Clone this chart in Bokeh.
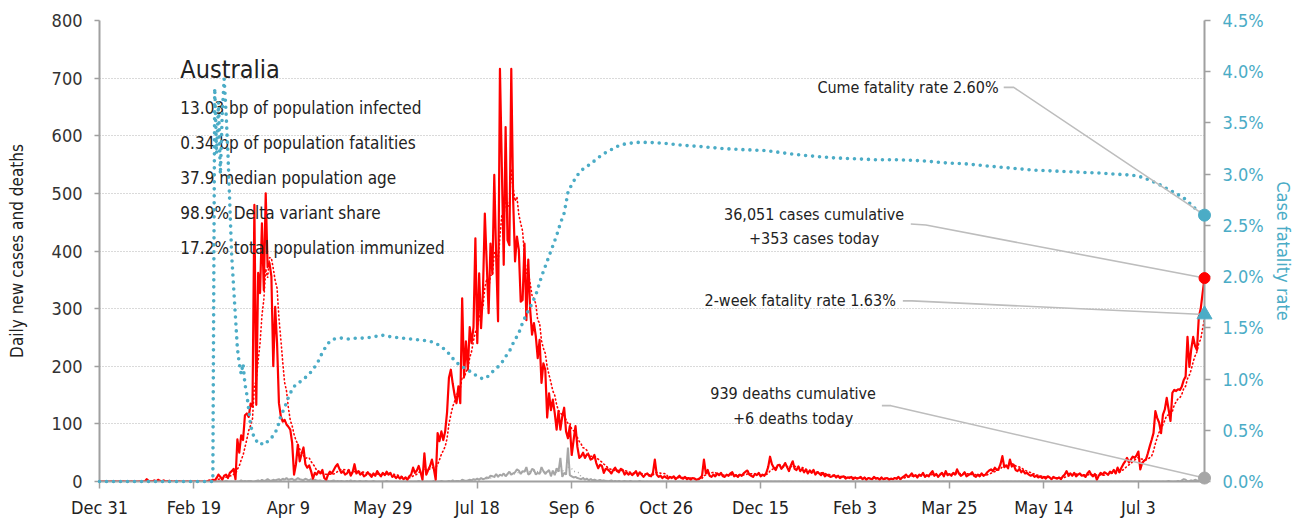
import pandas as pd
from bokeh.plotting import figure
from bokeh.models import Range1d, LinearAxis, FixedTicker, PrintfTickFormatter, Label
from bokeh.embed import file_html
from bokeh.resources import INLINE

FONT = "DejaVu Sans Condensed, Liberation Sans Narrow, Roboto, sans-serif"
RED = "#ff0000"
BLUE = "#4bacc6"
GRAY = "#a6a6a6"
TXT = "#222222"

# ---------------- data (day 0 = Dec 31, 2019) ----------------
tick_days = [0, 50, 100, 150, 200, 250, 300, 350, 400, 450, 500, 550]
tick_labels = ["Dec 31", "Feb 19", "Apr 9", "May 29", "Jul 18", "Sep 6",
               "Oct 26", "Dec 15", "Feb 3", "Mar 25", "May 14", "Jul 3"]

cases = [
    0, 0, 0, 0, 0, 0, 0, 0, 0, 0, 0, 0, 0, 0, 0, 0, 0, 0, 0, 0,
    0, 0, 0, 0, 0, 4, 1, 0, 0, 2, 0, 3, 1, 0, 2, 0, 0, 1, 0, 0,
    0, 0, 0, 0, 0, 0, 0, 0, 0, 0, 0, 0, 0, 0, 0, 0, 0, 0, 2, 1,
    3, 2, 6, 12, 8, 3, 10, 12, 6, 15, 18, 22, 4, 73, 50, 80, 72, 115, 118, 112,
    135, 130, 480, 133, 362, 327, 448, 332, 500, 372, 379, 356, 200, 303, 240, 136, 113, 104, 107, 99,
    95, 90, 67, 12, 30, 64, 35, 48, 59, 30, 24, 28, 18, 5, 15, 12, 18, 14, 20, 6,
    3, 12, 17, 14, 20, 26, 30, 22, 15, 18, 12, 14, 20, 10, 16, 30, 14, 18, 12, 15,
    9, 11, 16, 12, 8, 14, 10, 18, 13, 9, 15, 11, 17, 12, 15, 8, 10, 6, 9, 5,
    8, 4, 7, 3, 9, 12, 24, 15, 19, 27, 16, 3, 49, 12, 20, 27, 38, 22, 3, 84,
    70, 87, 72, 87, 120, 180, 194, 170, 150, 136, 165, 136, 318, 182, 243, 194, 268, 240, 268, 422,
    240, 361, 266, 330, 465, 379, 292, 413, 360, 532, 390, 278, 716, 546, 376, 615, 419, 410, 716, 488,
    382, 425, 402, 312, 315, 413, 280, 385, 298, 255, 275, 252, 214, 246, 171, 205, 194, 111, 153, 124,
    142, 119, 90, 122, 90, 113, 128, 87, 75, 96, 46, 72, 96, 60, 41, 44, 50, 41, 47, 46,
    38, 40, 46, 32, 23, 29, 27, 15, 22, 21, 18, 14, 20, 24, 18, 16, 22, 20, 12, 16,
    12, 15, 11, 14, 18, 10, 16, 12, 8, 12, 14, 10, 9, 15, 38, 12, 8, 10, 6, 9,
    7, 5, 8, 6, 9, 4, 7, 10, 6, 5, 8, 4, 6, 3, 6, 5, 3, 4, 6, 10,
    38, 14, 20, 10, 8, 12, 9, 14, 11, 15, 9, 8, 12, 10, 14, 16, 9, 11, 8, 12,
    10, 14, 17, 19, 12, 10, 8, 13, 11, 15, 9, 12, 10, 15, 25, 43, 30, 24, 20, 28,
    29, 22, 26, 32, 25, 18, 28, 35, 22, 20, 26, 18, 22, 16, 21, 14, 19, 15, 20, 12,
    16, 14, 11, 15, 9, 12, 10, 8, 9, 11, 7, 10, 6, 8, 9, 5, 7, 6, 8, 4,
    7, 5, 6, 8, 4, 7, 3, 6, 5, 4, 8, 5, 6, 3, 7, 4, 5, 6, 3, 5,
    4, 6, 5, 8, 4, 7, 9, 12, 8, 10, 14, 9, 11, 7, 12, 10, 15, 8, 11, 9,
    14, 18, 10, 13, 8, 12, 15, 9, 18, 11, 13, 10, 15, 12, 21, 14, 10, 12, 16, 9,
    11, 13, 16, 10, 8, 12, 9, 14, 10, 12, 16, 19, 21, 18, 24, 20, 22, 30, 44, 25,
    28, 23, 38, 26, 29, 20, 18, 22, 16, 19, 14, 15, 12, 10, 12, 8, 10, 7, 9, 6,
    8, 5, 9, 7, 4, 8, 6, 5, 7, 4, 9, 12, 18, 11, 14, 10, 15, 9, 12, 14,
    10, 11, 8, 14, 18, 12, 9, 13, 3, 10, 15, 12, 16, 14, 12, 17, 15, 20, 14, 24,
    16, 24, 30, 35, 41, 33, 38, 43, 41, 45, 52, 21, 32, 36, 38, 49, 61, 72, 84, 122,
    110, 102, 84, 116, 125, 145, 125, 105, 154, 159, 157, 160, 159, 165, 176, 182, 251, 199, 230, 251,
    235, 228, 286, 300, 327, 353,
]

deaths = [
    0, 0, 0, 0, 0, 0, 0, 0, 0, 0, 0, 0, 0, 0, 0, 0, 0, 0, 0, 0,
    0, 0, 0, 0, 0, 0, 0, 0, 0, 0, 0, 0, 0, 0, 0, 0, 0, 0, 0, 0,
    0, 0, 0, 0, 0, 0, 0, 0, 0, 0, 0, 0, 0, 0, 0, 0, 0, 0, 0, 0,
    0, 1, 0, 0, 1, 0, 0, 1, 0, 0, 0, 0, 0, 0, 0, 2, 0, 1, 0, 1,
    1, 0, 0, 1, 2, 0, 3, 1, 2, 4, 2, 1, 3, 2, 3, 4, 2, 5, 3, 6,
    3, 4, 5, 2, 3, 6, 4, 3, 2, 5, 3, 2, 4, 1, 3, 2, 1, 2, 0, 1,
    2, 1, 0, 1, 2, 0, 1, 0, 1, 0, 0, 1, 0, 2, 0, 1, 0, 0, 1, 0,
    0, 1, 0, 0, 0, 1, 0, 0, 0, 0, 0, 0, 1, 0, 0, 0, 0, 0, 0, 0,
    0, 0, 0, 0, 0, 0, 0, 0, 0, 1, 0, 0, 0, 0, 0, 0, 0, 1, 0, 0,
    0, 1, 0, 0, 0, 1, 0, 2, 0, 1, 1, 0, 3, 2, 1, 2, 3, 2, 4, 3,
    5, 3, 6, 4, 5, 7, 6, 10, 9, 8, 13, 8, 12, 10, 14, 9, 13, 17, 12, 14,
    16, 21, 19, 13, 18, 17, 25, 12, 14, 22, 20, 12, 15, 13, 25, 18, 13, 17, 20, 9,
    19, 11, 23, 17, 41, 8, 15, 12, 59, 11, 9, 7, 8, 6, 5, 4, 6, 3, 5, 2,
    4, 2, 3, 2, 1, 3, 1, 2, 1, 0, 1, 2, 0, 1, 0, 1, 0, 0, 1, 0,
    0, 1, 0, 0, 0, 0, 1, 0, 0, 0, 0, 0, 0, 0, 0, 0, 0, 0, 0, 0,
    0, 0, 0, 0, 0, 0, 0, 0, 0, 0, 0, 0, 0, 0, 0, 0, 0, 0, 0, 0,
    0, 0, 0, 0, 0, 0, 0, 0, 0, 0, 0, 0, 0, 0, 0, 0, 0, 0, 0, 0,
    0, 0, 0, 0, 0, 0, 0, 0, 0, 0, 0, 0, 0, 0, 0, 0, 0, 0, 0, 0,
    0, 0, 0, 0, 0, 0, 0, 0, 0, 0, 0, 0, 0, 0, 0, 0, 0, 0, 0, 0,
    0, 0, 0, 0, 0, 0, 0, 0, 0, 0, 0, 0, 0, 0, 0, 0, 0, 0, 0, 0,
    0, 0, 0, 0, 0, 0, 0, 0, 0, 0, 0, 0, 0, 0, 0, 0, 0, 0, 0, 0,
    0, 0, 0, 0, 0, 0, 0, 0, 0, 0, 0, 0, 0, 0, 0, 0, 0, 0, 0, 0,
    0, 0, 0, 0, 0, 0, 0, 0, 0, 0, 0, 0, 0, 0, 0, 0, 0, 0, 0, 0,
    0, 0, 0, 0, 0, 0, 0, 0, 0, 0, 0, 0, 0, 0, 0, 0, 0, 0, 0, 0,
    0, 0, 0, 0, 0, 0, 0, 0, 0, 0, 0, 0, 0, 0, 0, 0, 0, 0, 0, 0,
    0, 0, 0, 0, 0, 0, 0, 0, 0, 0, 0, 0, 0, 0, 0, 0, 0, 0, 0, 0,
    0, 0, 0, 0, 0, 0, 0, 0, 0, 0, 0, 0, 0, 0, 0, 0, 0, 0, 0, 0,
    0, 0, 0, 0, 0, 0, 0, 0, 0, 0, 0, 0, 0, 0, 0, 0, 0, 0, 0, 0,
    0, 0, 0, 0, 0, 0, 1, 0, 0, 0, 0, 1, 0, 2, 4, 3, 0, 1, 2, 1,
    3, 2, 1, 4, 2, 6,
]

cfr_days = [0, 60, 61, 62, 63, 64, 65, 66, 67, 68, 69, 70, 71, 72, 73, 74, 75, 76, 77, 78,
            79, 80, 81, 82, 83, 84, 85, 86, 87, 88, 89, 90, 92, 94, 96, 98, 100, 102, 104, 106,
            108, 110, 112, 114, 116, 118, 120, 122, 124, 128, 132, 136, 140, 145, 149, 155, 160, 165, 170, 175,
            180, 184, 188, 191, 195, 198, 201, 203, 206, 208, 211, 213, 215, 217, 219, 222, 224, 226, 228, 231,
            234, 236, 238, 240, 242, 244, 246, 248, 250, 253, 256, 260, 264, 267, 270, 274, 277, 280, 285, 291,
            300, 310, 318, 330, 340, 353, 365, 375, 388, 400, 412, 424, 436, 448, 459, 470, 482, 494, 506, 518,
            530, 538, 547, 552, 556, 560, 565, 569, 573, 576, 579, 582, 585]
cfr_pct = [0.0, 0.0, 3.84, 3.2, 3.7, 3.0, 3.6, 3.93, 3.6, 3.2, 2.7, 2.2, 1.9, 1.6, 1.3, 1.15, 1.05, 1.15, 0.95, 0.85,
           0.7, 0.55, 0.48, 0.42, 0.40, 0.37, 0.36, 0.37, 0.36, 0.38, 0.39, 0.40, 0.45, 0.51, 0.64, 0.72, 0.82, 0.90, 0.95, 0.97,
           1.00, 1.03, 1.07, 1.12, 1.18, 1.26, 1.32, 1.37, 1.39, 1.40, 1.39, 1.40, 1.40, 1.41, 1.43, 1.41, 1.40, 1.39, 1.38, 1.37,
           1.33, 1.27, 1.18, 1.13, 1.09, 1.05, 1.02, 1.00, 1.03, 1.07, 1.12, 1.16, 1.22, 1.27, 1.35, 1.45, 1.55, 1.63, 1.70, 1.82,
           2.00, 2.10, 2.20, 2.30, 2.40, 2.52, 2.62, 2.82, 2.90, 2.99, 3.05, 3.10, 3.16, 3.20, 3.23, 3.27, 3.29, 3.30, 3.31, 3.31,
           3.30, 3.28, 3.27, 3.25, 3.24, 3.23, 3.20, 3.18, 3.16, 3.15, 3.14, 3.14, 3.13, 3.11, 3.10, 3.08, 3.06, 3.04, 3.03, 3.02,
           3.01, 3.00, 2.99, 2.97, 2.94, 2.91, 2.86, 2.82, 2.78, 2.74, 2.68, 2.64, 2.60]

two_week_cfr = 1.63
cum_cases_text = "36,051 cases cumulative"
today_cases_text = "+353 cases today"
cum_deaths_text = "939 deaths cumulative"
today_deaths_text = "+6 deaths today"
country = "Australia"
stats = ["13.03 bp of population infected",
         "0.34 bp of population fatalities",
         "37.9 median population age",
         "98.9% Delta variant share",
         "17.2% total population immunized"]

assert len(cases) == len(deaths) == 586
assert len(cfr_days) == len(cfr_pct)

days = list(range(len(cases)))
last_day = days[-1]
cases_avg = pd.Series(cases).rolling(7).mean()
deaths_avg = pd.Series(deaths).rolling(7).mean()

Y_MAX = 800
CFR_MAX = 4.5
to_left = Y_MAX / CFR_MAX   # cfr % -> left-axis units

# ---------------- figure ----------------
p = figure(width=1296, height=520, output_backend="svg", toolbar_location=None,
           x_range=Range1d(0, last_day), y_range=Range1d(0, Y_MAX),
           min_border_left=99, min_border_right=90, min_border_top=20, min_border_bottom=38)
p.extra_y_ranges = {"cfr": Range1d(0, CFR_MAX)}
p.outline_line_color = None

AX = "#a0a0a0"
FS = "18px"
FS_AX = "17px"

# left axis
ya = p.yaxis[0]
ya.ticker = FixedTicker(ticks=list(range(0, 801, 100)))
ya.axis_line_color = AX
ya.axis_line_width = 2
ya.major_tick_line_color = AX
ya.major_tick_line_width = 1.5
ya.major_tick_out = 5
ya.major_tick_in = 0
ya.minor_tick_line_color = None
ya.major_label_text_font = FONT
ya.major_label_text_font_size = FS
ya.major_label_text_color = "#333333"
ya.major_label_standoff = 12
ya.axis_label = "Daily new cases and deaths"
ya.axis_label_text_font = FONT
ya.axis_label_text_font_size = FS_AX
ya.axis_label_text_font_style = "normal"
ya.axis_label_text_color = TXT
ya.axis_label_standoff = 22

# bottom axis
xa = p.xaxis[0]
xa.ticker = FixedTicker(ticks=tick_days)
xa.major_label_overrides = {d: lab for d, lab in zip(tick_days, tick_labels)}
xa.axis_line_color = AX
xa.axis_line_width = 2
xa.major_tick_line_color = AX
xa.major_tick_line_width = 1.5
xa.major_tick_out = 7
xa.major_tick_in = 0
xa.minor_tick_line_color = None
xa.major_label_text_font = FONT
xa.major_label_text_font_size = FS
xa.major_label_text_color = TXT
xa.major_label_standoff = 8

# right axis
ra = LinearAxis(y_range_name="cfr")
ra.ticker = FixedTicker(ticks=[i * 0.5 for i in range(10)])
ra.formatter = PrintfTickFormatter(format="%.1f%%")
ra.axis_line_color = AX
ra.axis_line_width = 2
ra.major_tick_line_color = AX
ra.major_tick_line_width = 1.5
ra.major_tick_out = 6
ra.major_tick_in = 0
ra.minor_tick_line_color = None
ra.major_label_text_font = FONT
ra.major_label_text_font_size = FS
ra.major_label_text_color = BLUE
ra.major_label_standoff = 12
ra.axis_label = "Case fatality rate"
ra.axis_label_text_font = FONT
ra.axis_label_text_font_size = FS
ra.axis_label_text_font_style = "normal"
ra.axis_label_text_color = BLUE
ra.axis_label_standoff = 6
p.add_layout(ra, "right")

p.xgrid.visible = False
p.ygrid.grid_line_color = "#b4b4b4"
p.ygrid.grid_line_dash = "1 2"
p.ygrid.grid_line_width = 1

# ---------------- series ----------------
p.line(days, deaths, line_color=GRAY, line_width=2)
p.line(days, deaths_avg, line_color=GRAY, line_width=1.4, line_dash="1 3")
p.line(days, cases, line_color=RED, line_width=2.2, line_join="round")
p.line(days, cases_avg, line_color=RED, line_width=1.6, line_dash="1 3", line_cap="round")
cfr_r = p.line(cfr_days, cfr_pct, y_range_name="cfr", line_color=BLUE, line_width=3.6,
               line_dash="0 7", line_cap="round")
cfr_r.level = "overlay"

# ---------------- annotations ----------------
LEAD = "#bdbdbd"
leaders = [
    ([478.7, 484.0, last_day], [684.0, 684.0, cfr_pct[-1] * to_left]),
    ([429.5, 437.5, last_day], [446.8, 445.0, cases[-1]]),
    ([425.3, 430.1, last_day], [313.4, 313.4, two_week_cfr * to_left]),
    ([414.2, 419.0, last_day], [131.6, 131.6, deaths[-1]]),
]
for xs, ys in leaders:
    r = p.line(xs, ys, line_color=LEAD, line_width=1.6)
    r.level = "overlay"

m1 = p.scatter([last_day], [cfr_pct[-1]], y_range_name="cfr", marker="circle", size=12,
               fill_color=BLUE, line_color=BLUE)
m2 = p.scatter([last_day], [cases[-1]], marker="circle", size=11, fill_color=RED, line_color=RED)
m3 = p.scatter([last_day], [two_week_cfr], y_range_name="cfr", marker="triangle", size=15,
               fill_color=BLUE, line_color=BLUE)
m4 = p.scatter([last_day], [deaths[-1]], marker="circle", size=12, fill_color=GRAY, line_color=GRAY)
for m in (m1, m2, m3, m4):
    m.level = "overlay"


def lab(x, y, text, size="16px", align="left"):
    p.add_layout(Label(x=x, y=y, text=text, text_font=FONT, text_font_size=size,
                       text_color=TXT, text_align=align, text_baseline="middle"))


lab(42.8, 715.2, country, size="25px")
for i, s in enumerate(stats):
    lab(42.8, 647.6 - i * 60.6, s, size="17px")

lab(476.0, 684.0, "Cume fatality rate %.2f%%" % cfr_pct[-1], align="right")
lab(378.3, 464.1, cum_cases_text, align="center")
lab(378.3, 422.5, today_cases_text, align="center")
lab(421.6, 313.4, "2-week fatality rate %.2f%%" % two_week_cfr, align="right")
lab(367.2, 152.4, cum_deaths_text, align="center")
lab(367.2, 109.1, today_deaths_text, align="center")

open("out.html", "w").write(file_html(p, INLINE))
